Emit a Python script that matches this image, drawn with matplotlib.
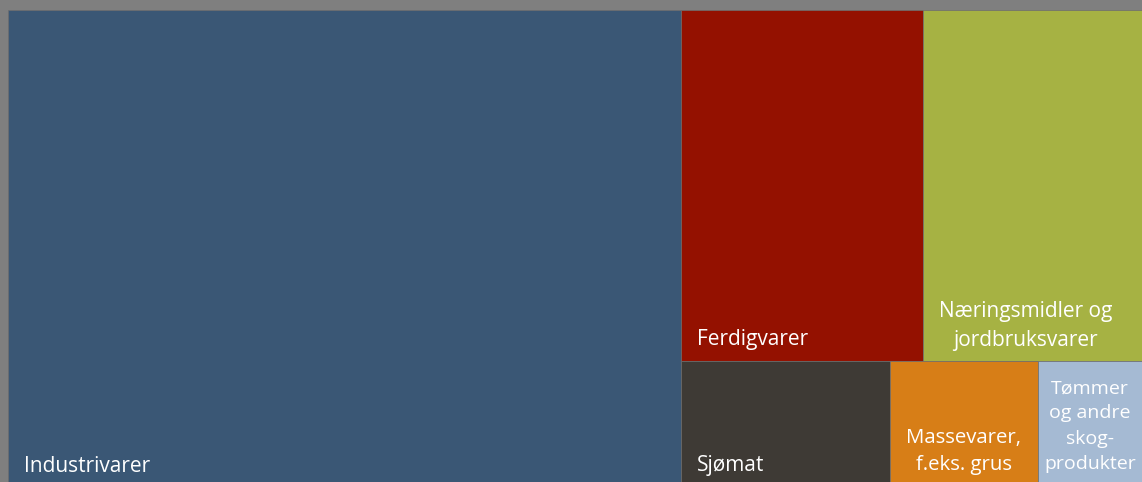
import matplotlib
matplotlib.use("Agg")
import matplotlib.pyplot as plt
from matplotlib.patches import Rectangle

# ---- data (share of total, %) ----
categories = ["Industrivarer", "Ferdigvarer", "Næringsmidler og\njordbruksvarer",
              "Sjømat", "Massevarer,\nf.eks. grus", "Tømmer\nog andre\nskog-\nprodukter"]
values = [59.35, 15.87, 14.36, 4.72, 3.35, 2.35]
colors = ["#3A5775", "#941100", "#A6B243", "#3E3A35", "#D77E17", "#A5BAD3"]

# label styles: (ha, x offset px, y offset px, fontsize, linespacing)
label_styles = [
    ("left", 16, 10, 15, 1.2),
    ("left", 16, 16, 15, 1.2),
    ("center", -7, 10, 15, 1.5),
    ("left", 16, 11, 15, 1.2),
    ("center", 0, 7, 14.7, 1.5),
    ("center", 0, 9, 14, 1.52),
]

W, H = 1134.0, 472.0


def worst(row, side):
    s = sum(row)
    return max(max(side * side * r / (s * s), (s * s) / (side * side * r)) for r in row)


def layout_row(row, x, y, w, h):
    s = sum(row)
    rects = []
    if w >= h:  # column along the left side (height is shorter side)
        cw = s / h
        yy = y
        for r in row:
            rh = r / cw
            rects.append((x, yy, cw, rh))
            yy += rh
        return rects, (x + cw, y, w - cw, h)
    else:  # row along the top
        rh = s / w
        xx = x
        for r in row:
            rw = r / rh
            rects.append((xx, y, rw, rh))
            xx += rw
        return rects, (x, y + rh, w, h - rh)


def squarify(vals, x, y, w, h):
    tot = sum(vals)
    areas = [v / tot * w * h for v in vals]
    out = []
    i = 0
    while i < len(areas):
        side = min(w, h)
        row = [areas[i]]
        j = i + 1
        while j < len(areas) and worst(row + [areas[j]], side) <= worst(row, side):
            row.append(areas[j])
            j += 1
        rects, (x, y, w, h) = layout_row(row, x, y, w, h)
        out.extend(rects)
        i = j
    return out


plt.rcParams['font.family'] = ['Open Sans', 'DejaVu Sans']
fig = plt.figure(figsize=(11.42, 4.82), dpi=100, facecolor="#7F7F7F")
ax = fig.add_axes([8 / 1142, 0, 1134 / 1142, 472 / 482])
ax.set_xlim(0, W)
ax.set_ylim(H, 0)  # y downward, like the layout
ax.axis("off")

rects = squarify(values, 0, 0, W, H)
for (rx, ry, rw, rh), c, lab, st in zip(rects, colors, categories, label_styles):
    ax.add_patch(Rectangle((rx, ry), rw, rh, facecolor=c, edgecolor="#6E6E6E", linewidth=0.5))
    ha, dx, dy, fs, ls = st
    if ha == "left":
        ax0 = rx
    else:
        ax0 = rx + rw / 2
    ax.annotate(lab, xy=(ax0, ry + rh), xytext=(dx, dy), textcoords="offset pixels",
                ha=ha, va="bottom" if "\n" in lab else "baseline", color="white",
                fontsize=fs, linespacing=ls, multialignment="center")

fig.savefig("out.png", dpi=100, facecolor=fig.get_facecolor())
